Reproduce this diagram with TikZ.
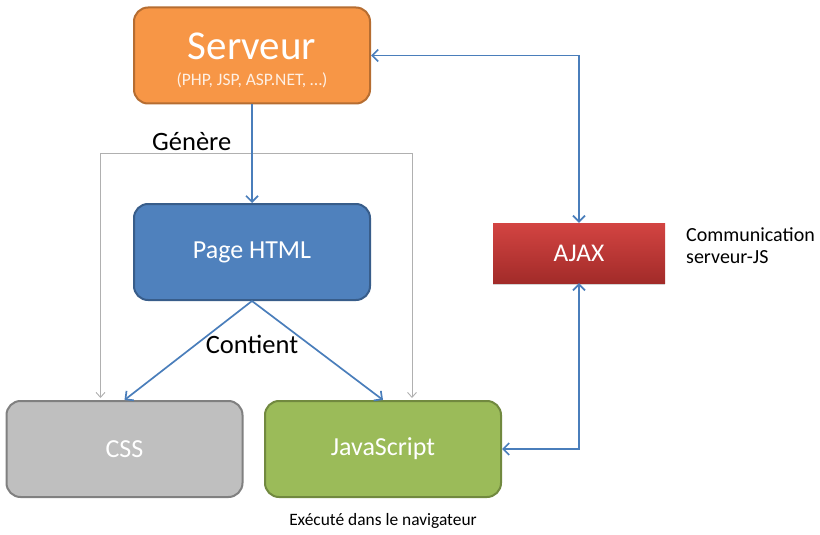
\documentclass[tikz,border=0pt]{standalone}
\usepackage{fontspec}
\setmainfont{Carlito}
\usetikzlibrary{arrows.meta,shadows}
\definecolor{orfill}{HTML}{F79646}
\definecolor{ordraw}{HTML}{B66D31}
\definecolor{blfill}{HTML}{4F81BD}
\definecolor{bldraw}{HTML}{385D8A}
\definecolor{grfill}{HTML}{BFBFBF}
\definecolor{grdraw}{HTML}{808080}
\definecolor{gnfill}{HTML}{9BBB59}
\definecolor{gndraw}{HTML}{71893F}
\definecolor{redtop}{HTML}{D34442}
\definecolor{redbot}{HTML}{A22B29}
\definecolor{arrowblue}{HTML}{4A7EBB}
\definecolor{bracketgray}{HTML}{B0B0B0}
\tikzset{
  box/.style={rounded corners=14pt, line width=2pt, minimum width=236pt, minimum height=96pt, inner sep=0pt, text=white, font=\fontsize{26}{30}\selectfont},
  conn/.style={draw=arrowblue, line width=1.7pt, -{Straight Barb[length=6pt,width=12pt,line width=1.7pt]}},
  conn2/.style={draw=arrowblue, line width=1.7pt, {Straight Barb[length=6pt,width=12pt,line width=1.7pt]}-{Straight Barb[length=6pt,width=12pt,line width=1.7pt]}},
  gconn/.style={draw=bracketgray, line width=0.9pt, -{Straight Barb[length=5pt,width=9pt,line width=0.9pt]}},
  lbl/.style={font=\fontsize{26.5}{30}\selectfont, inner sep=0pt}
}
\begin{document}
\begin{tikzpicture}[x=1pt,y=-1pt]
\useasboundingbox (0,0) rectangle (820,535);
% boxes
\node[box, fill=orfill, draw=ordraw] (srv) at (252,55.5) {};
\node[text=white, font=\fontsize{41}{44}\selectfont, inner sep=0pt] (srvt) at (252,46) {Serveur};
\node[text=white!85!orfill, font=\fontsize{17.5}{20}\selectfont, inner sep=0pt] (srvs) at (252,80) {(PHP, JSP, ASP.NET, \dots)};
\node[box, fill=blfill, draw=bldraw] (html) at (252,252) {Page HTML};
\node[box, fill=grfill, draw=grdraw] (css) at (124.5,449) {CSS};
\node[box, fill=gnfill, draw=gndraw] (js) at (383,449) {JavaScript};
\node[minimum width=172pt, minimum height=60pt, inner sep=0pt, text=white,
      top color=redtop, bottom color=redbot, draw=none,
      drop shadow={shadow xshift=0pt, shadow yshift=-2pt, opacity=0.35},
      font=\fontsize{25.5}{30}\selectfont] (ajax) at (579,253) {AJAX};
% labels
\node[lbl, anchor=west] (gen) at (152,142) {Génère};
\node[lbl] (cont) at (252,344) {Contient};
\node[font=\fontsize{20}{22}\selectfont, align=left, anchor=west, inner sep=0pt] (comm) at (686,246) {Communication\\serveur-JS};
\node[font=\fontsize{17.4}{20}\selectfont, inner sep=0pt] (exec) at (383,521) {Exécuté dans le navigateur};
% gray bracket
\coordinate (bl) at (100.5,153);
\coordinate (br) at (412,153);
\draw[draw=bracketgray, line width=0.9pt] (bl) -- (br);
\draw[gconn] (bl) -- (100.5,398);
\draw[gconn] (br) -- (412,398);
% arrows
\draw[conn] (srv.south) -- (html.north);
\draw[conn] (html.south) -- (css.north);
\draw[conn] (html.south) -- (js.north);
\draw[conn2] (srv.east) -| (ajax.north);
\draw[conn2] (ajax.south) |- (js.east);
\end{tikzpicture}
\end{document}
